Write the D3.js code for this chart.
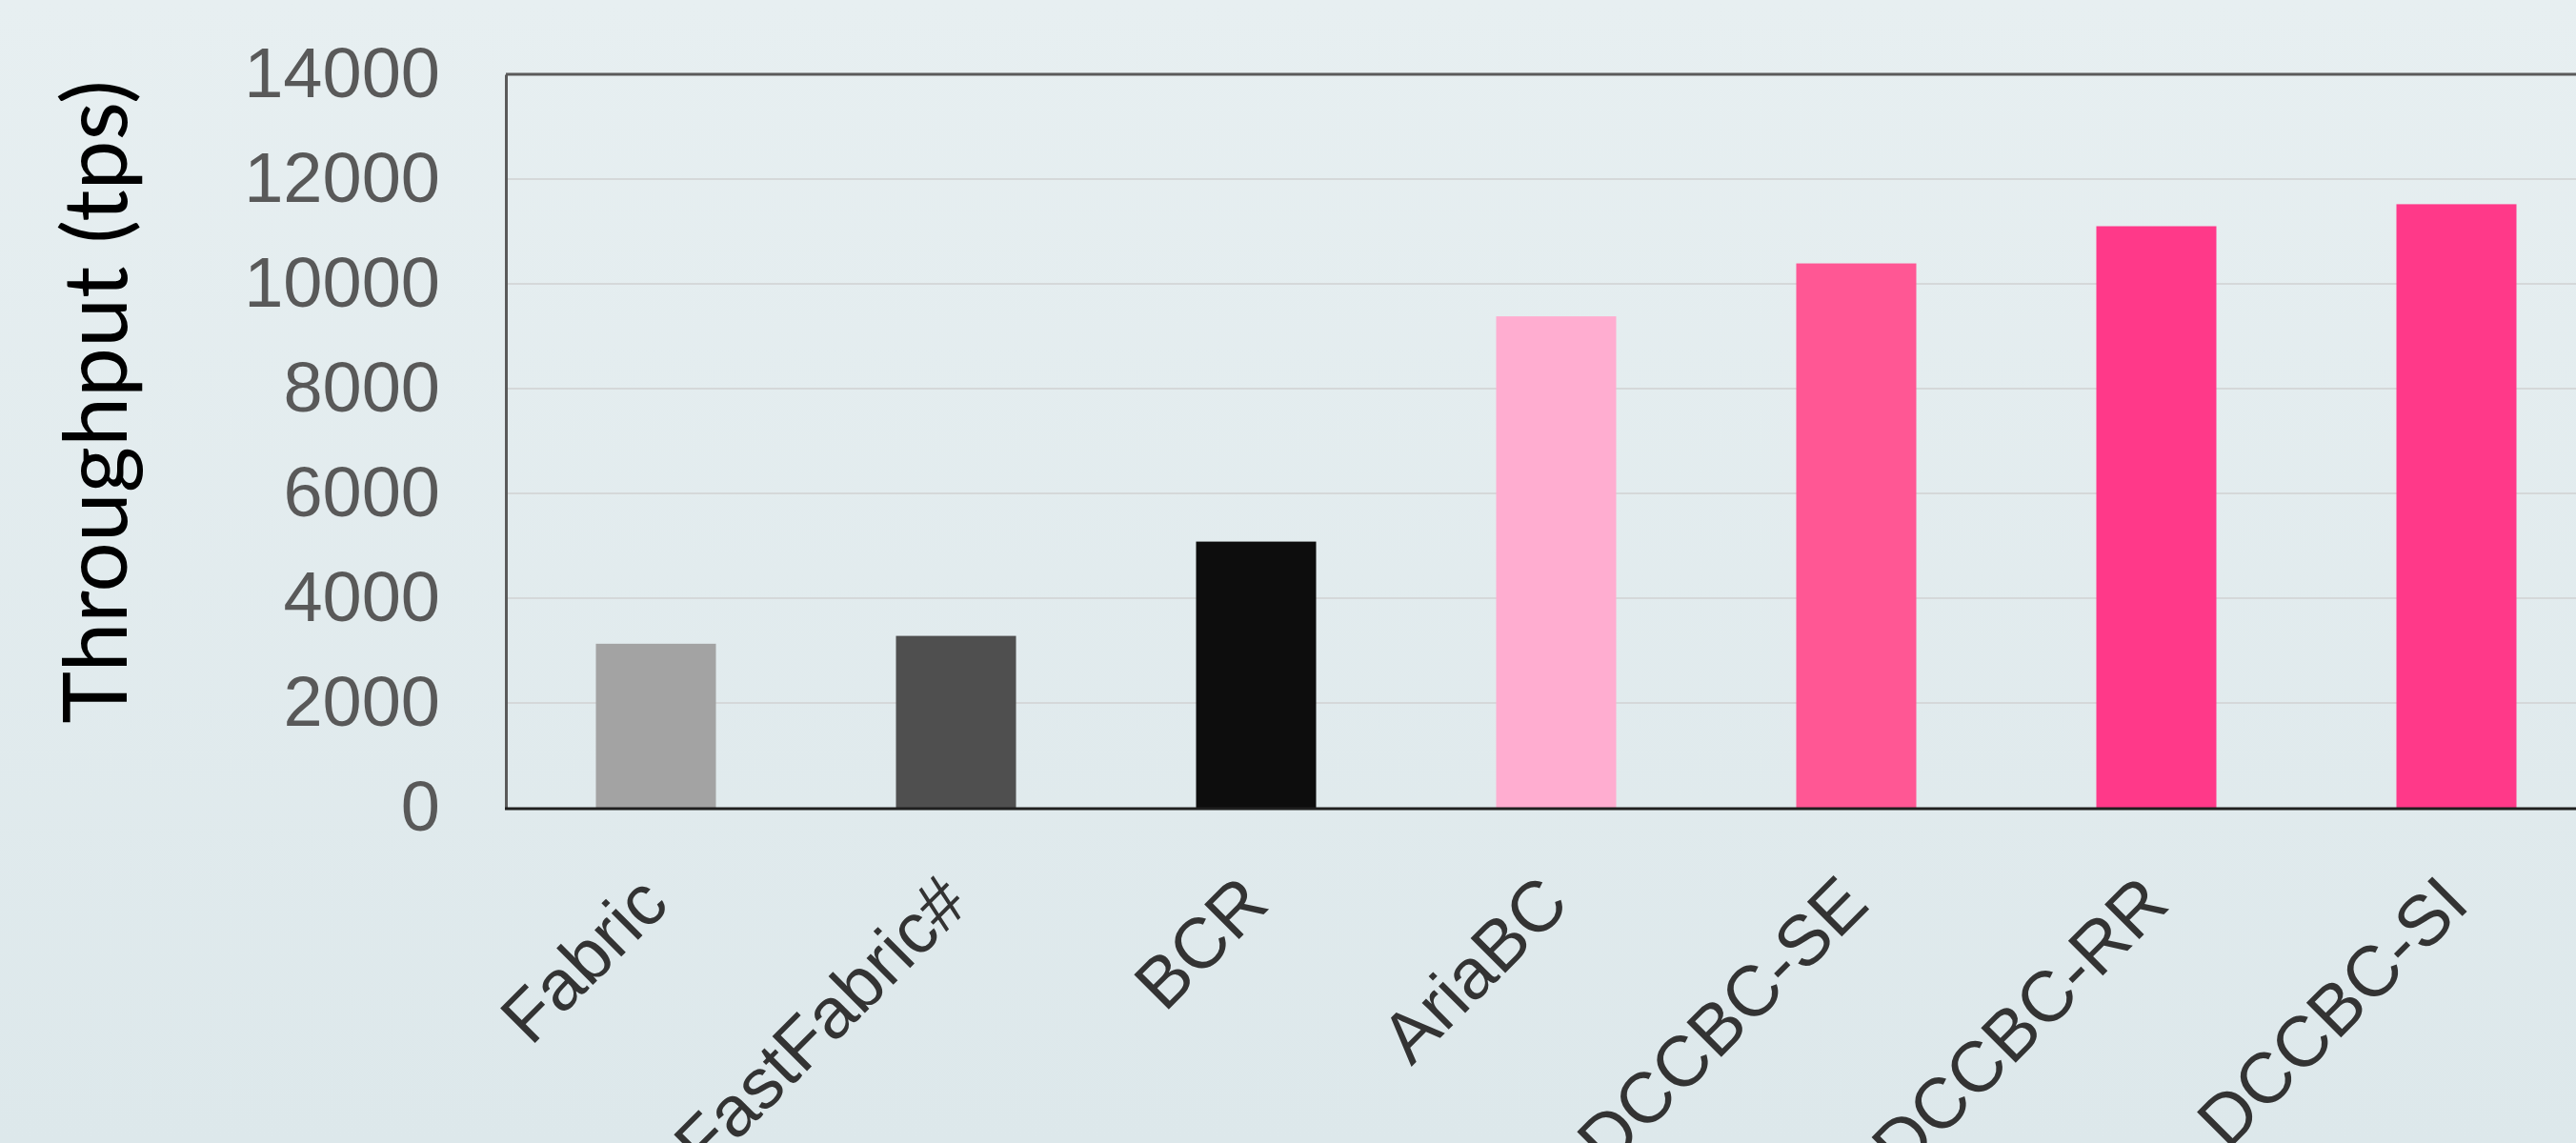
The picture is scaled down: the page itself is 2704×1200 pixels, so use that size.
<!DOCTYPE html>
<html>
<head>
<meta charset="utf-8">
<script src="https://cdn.jsdelivr.net/npm/d3@7"></script>
<style>
  html, body { margin: 0; padding: 0; overflow: hidden; }
  body { width: 2704px; height: 1200px; }
</style>
</head>
<body>
<div id="viz"></div>
<script>
const width = 2704;
const height = 1200;
const margin = {top: 78, left: 531, bottom: 352};
const plotRight = 2736; // plot runs a little past the right edge, as in the source

// data
const systems = ['Fabric', 'FastFabric#', 'BCR', 'AriaBC', 'DCCBC-SE', 'DCCBC-RR', 'DCCBC-SI'];
const throughput = [3130, 3280, 5080, 9380, 10390, 11100, 11520];
const barColors = ['#a3a3a3', '#4f4f4f', '#0d0d0d', '#ffadd0', '#ff5794', '#ff3989', '#ff3989'];
const yTicks = [0, 2000, 4000, 6000, 8000, 10000, 12000, 14000];

const rows = systems.map((s, i) => ({name: s, value: throughput[i], color: barColors[i]}));

const svg = d3.select('#viz')
  .append('svg')
    .attr('width', width)
    .attr('height', height);

const defs = svg.append('defs');
const bg = defs.append('linearGradient')
    .attr('id', 'bg')
    .attr('x1', 0).attr('y1', 0).attr('x2', 0).attr('y2', 1);
bg.append('stop').attr('offset', '0%').attr('stop-color', '#e7eff1');
bg.append('stop').attr('offset', '100%').attr('stop-color', '#dde8eb');

svg.append('rect')
    .attr('width', width)
    .attr('height', height)
    .attr('fill', 'url(#bg)');

const xScale = d3.scaleBand()
  .domain(systems)
  .range([margin.left, plotRight])
  .paddingInner(0.6)
  .paddingOuter(0.3);

const yScale = d3.scaleLinear()
  .domain([0, 14000])
  .range([height - margin.bottom, margin.top]);

// gridlines
svg.append('g')
  .selectAll('line')
  .data(yTicks.slice(1, -1))
  .join('line')
    .attr('x1', margin.left)
    .attr('x2', plotRight)
    .attr('y1', d => yScale(d))
    .attr('y2', d => yScale(d))
    .attr('stroke', '#d5d8d9')
    .attr('stroke-width', 2);

// bars
svg.append('g')
  .selectAll('rect')
  .data(rows)
  .join('rect')
    .attr('x', d => xScale(d.name))
    .attr('y', d => yScale(d.value))
    .attr('width', xScale.bandwidth())
    .attr('height', d => yScale(0) - yScale(d.value))
    .attr('fill', d => d.color);

// frame: top and left
svg.append('line')
    .attr('x1', margin.left).attr('x2', plotRight)
    .attr('y1', yScale(14000)).attr('y2', yScale(14000))
    .attr('stroke', '#5a5a5a')
    .attr('stroke-width', 3);

const yAxis = d3.axisLeft(yScale)
  .tickValues(yTicks)
  .tickFormat(d3.format('d'))
  .tickSize(0)
  .tickPadding(69);
const yG = svg.append('g')
    .attr('transform', `translate(${margin.left}, 0)`)
    .call(yAxis);
yG.select('.domain').attr('stroke', '#5a5a5a').attr('stroke-width', 3);
yG.selectAll('text')
    .attr('fill', '#595959')
    .style('font-family', '"Liberation Sans", Arial, sans-serif')
    .style('font-size', '74px');

// x axis line
svg.append('line')
    .attr('x1', margin.left - 1).attr('x2', plotRight)
    .attr('y1', yScale(0) + 1).attr('y2', yScale(0) + 1)
    .attr('stroke', '#1f1f1f')
    .attr('stroke-width', 3);

// rotated category labels
svg.append('g')
  .selectAll('text')
  .data(systems)
  .join('text')
    .attr('transform', d => `translate(${xScale(d) + xScale.bandwidth() / 2 + 16}, ${yScale(0) + 104}) rotate(-45)`)
    .attr('text-anchor', 'end')
    .attr('fill', '#333333')
    .style('font-family', '"Liberation Sans", Arial, sans-serif')
    .style('font-size', '75px')
    .text(d => d);

// y title
svg.append('text')
    .attr('transform', 'translate(100, 422) rotate(-90)')
    .attr('text-anchor', 'middle')
    .attr('dy', '0.35em')
    .attr('fill', '#000000')
    .style('font-family', 'Lato, sans-serif')
    .style('font-size', '93px')
    .text('Throughput (tps)');
</script>
</body>
</html>
